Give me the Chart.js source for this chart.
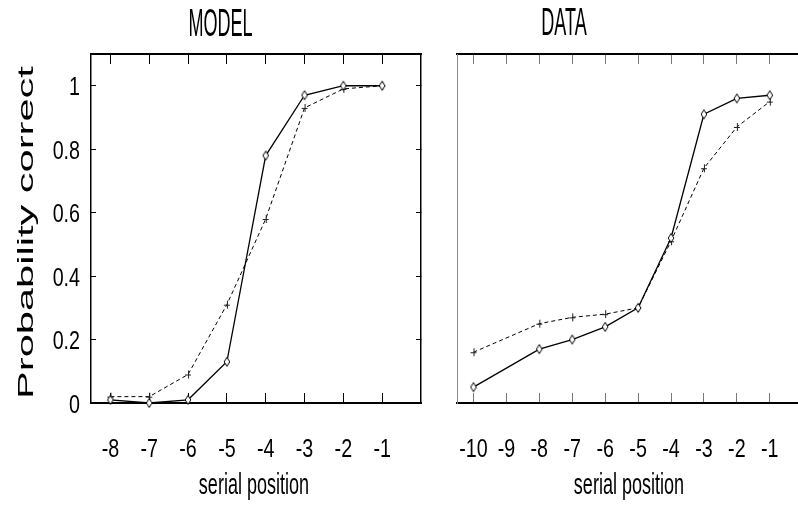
<!DOCTYPE html>
<html>
<head>
<meta charset="utf-8">
<script src="https://cdn.jsdelivr.net/npm/chart.js@4"></script>
<style>
  html, body { margin: 0; padding: 0; background: #fff; overflow: hidden; width: 798px; height: 505px; }
  #wrapL { position: absolute; left: 0; top: 0; width: 440px; height: 505px; }
  #wrapR { position: absolute; left: 440px; top: 0; width: 369px; height: 505px; }
</style>
</head>
<body>
<div id="wrapL"><canvas id="cModel" width="440" height="505"></canvas></div>
<div id="wrapR"><canvas id="cData" width="369" height="505"></canvas></div>
<script>
// ---- data ----
const modelTitle = 'MODEL';
const dataTitle = 'DATA';
const xAxisTitle = 'serial position';
const yAxisTitle = 'Probability correct';

const modelPositions = [-8, -7, -6, -5, -4, -3, -2, -1];
const modelSolid  = [0.01, 0.00, 0.01, 0.13, 0.78, 0.97, 1.00, 1.00];
const modelDashed = [0.02, 0.02, 0.09, 0.31, 0.58, 0.93, 0.99, 1.00];

const dataPositions = [-10, -8, -7, -6, -5, -4, -3, -2, -1];
const dataSolid  = [0.05, 0.17, 0.20, 0.24, 0.30, 0.52, 0.91, 0.96, 0.97];
const dataDashed = [0.16, 0.25, 0.27, 0.28, 0.30, 0.51, 0.74, 0.87, 0.95];

const modelXTicks = [-8, -7, -6, -5, -4, -3, -2, -1];
const modelXTickLabels = ['-8', '-7', '-6', '-5', '-4', '-3', '-2', '-1'];
const dataXTicks = [-10, -9, -8, -7, -6, -5, -4, -3, -2, -1];
const dataXTickLabels = ['-10', '-9', '-8', '-7', '-6', '-5', '-4', '-3', '-2', '-1'];
const yTicks = [0, 0.2, 0.4, 0.6, 0.8, 1];
const yTickLabels = ['0', '0.2', '0.4', '0.6', '0.8', '1'];

// ---- styles ----
const SANS = '"Liberation Sans", Arial, sans-serif';
const NARROW_SX = 0.82;   // Liberation Sans compressed horizontally ~ Arial Narrow

function makeDiamond() {
  const c = document.createElement('canvas');
  c.width = 8; c.height = 12;
  const g = c.getContext('2d');
  g.beginPath();
  g.moveTo(4, 1.5); g.lineTo(6.8, 6); g.lineTo(4, 10.5); g.lineTo(1.2, 6); g.closePath();
  g.fillStyle = '#fff'; g.fill();
  g.strokeStyle = '#000'; g.lineWidth = 1; g.stroke();
  return c;
}
function makePlus() {
  const c = document.createElement('canvas');
  c.width = 8; c.height = 10;
  const g = c.getContext('2d');
  g.strokeStyle = '#222'; g.lineWidth = 1;
  g.beginPath();
  g.moveTo(1, 5.5); g.lineTo(7, 5.5);
  g.moveTo(4.5, 1); g.lineTo(4.5, 9);
  g.stroke();
  return c;
}
const diamondImg = makeDiamond();
const plusImg = makePlus();

function drawStretched(ctx, text, x, y, o) {
  ctx.save();
  ctx.font = o.font;
  ctx.fillStyle = '#000';
  ctx.textAlign = o.align || 'center';
  ctx.textBaseline = 'alphabetic';
  ctx.translate(x, y);
  if (o.rotate) ctx.rotate(o.rotate);
  ctx.scale(o.sx || 1, o.sy || 1);
  ctx.fillText(text, 0, 0);
  ctx.restore();
}

// Draws titles and tick labels (tick positions come from the chart's scales)
const stretchText = {
  id: 'stretchText',
  afterDraw(chart, args, opts) {
    const ctx = chart.ctx;
    (opts.items || []).forEach(it => drawStretched(ctx, it.text, it.x, it.y, it));
    (opts.axes || []).forEach(a => {
      const scale = chart.scales[a.id];
      a.values.forEach((v, i) => {
        const p = scale.getPixelForValue(v);
        if (scale.isHorizontal()) {
          drawStretched(ctx, a.labels[i], p, scale.top + a.offset, a);
        } else {
          drawStretched(ctx, a.labels[i], scale.right - a.offset, p + a.baselineShift, a);
        }
      });
    });
  }
};

function pts(xs, ys) { return xs.map((x, i) => ({ x: x, y: ys[i] })); }

function solidDs(xs, ys) {
  return { data: pts(xs, ys), borderColor: '#000', borderWidth: 1.3, pointStyle: diamondImg,
           pointRadius: 5, clip: false, order: 1, tension: 0 };
}
function dashedDs(xs, ys) {
  return { data: pts(xs, ys), borderColor: '#000', borderWidth: 1, borderDash: [4, 3], pointStyle: plusImg,
           pointRadius: 5, clip: false, order: 2, tension: 0 };
}

function setTicks(values) { return axis => { axis.ticks = values.map(v => ({ value: v })); }; }
function fixSize(prop, v) { return axis => { axis[prop] = v; }; }

function xScale(pos, min, max, tickVals, size, tickColor) {
  return {
    type: 'linear', position: pos, min: min, max: max,
    afterBuildTicks: setTicks(tickVals),
    afterFit: fixSize('height', size),
    grid: { display: true, drawOnChartArea: false, drawTicks: true, tickLength: -10, tickColor: tickColor, tickWidth: 1 },
    border: { display: true, color: '#000', width: 2 },
    ticks: { display: false }
  };
}
function yScale(pos, size, tickLen, borderColor, borderWidth) {
  return {
    type: 'linear', position: pos, min: 0, max: 1.1,
    afterBuildTicks: setTicks(yTicks),
    afterFit: fixSize('width', size),
    grid: tickLen ? { display: true, drawOnChartArea: false, drawTicks: true, tickLength: -tickLen, tickColor: '#000', tickWidth: 1 }
                  : { display: false },
    border: { display: true, color: borderColor, width: borderWidth },
    ticks: { display: false }
  };
}

const tickFont = '24px ' + SANS;
const titleFont = '22px ' + SANS;

// ---- MODEL chart ----
new Chart(document.getElementById('cModel'), {
  type: 'line',
  data: { datasets: [ solidDs(modelPositions, modelSolid), dashedDs(modelPositions, modelDashed) ] },
  options: {
    responsive: false, animation: false, devicePixelRatio: 1,
    layout: { padding: 0 },
    plugins: {
      legend: { display: false }, tooltip: { enabled: false }, title: { display: false },
      stretchText: {
        items: [
          { text: modelTitle, x: 220.5, y: 35.5, font: titleFont, sx: NARROW_SX, sy: 1.78 },
          { text: xAxisTitle, x: 254, y: 494, font: titleFont, sx: NARROW_SX, sy: 1.38 },
          { text: yAxisTitle, x: 33, y: 232.5, rotate: -Math.PI / 2, font: titleFont, sx: 1.89, sy: 1 }
        ],
        axes: [
          { id: 'x', values: modelXTicks, labels: modelXTickLabels, offset: 54, font: tickFont, sx: NARROW_SX, sy: 1.1 },
          { id: 'y', values: yTicks, labels: yTickLabels, offset: 11, baselineShift: 9.5, align: 'right', font: tickFont, sx: NARROW_SX, sy: 1.1 }
        ]
      }
    },
    scales: {
      x: xScale('bottom', -8.5, 0, modelXTicks, 102, '#000'),
      x2: xScale('top', -8.5, 0, modelXTicks, 54, '#000'),
      y: yScale('left', 91, 5, '#000', 1.5),
      y2: yScale('right', 19, 5, '#000', 1.5)
    }
  },
  plugins: [stretchText]
});

// ---- DATA chart ----
new Chart(document.getElementById('cData'), {
  type: 'line',
  data: { datasets: [ solidDs(dataPositions, dataSolid), dashedDs(dataPositions, dataDashed) ] },
  options: {
    responsive: false, animation: false, devicePixelRatio: 1,
    layout: { padding: 0 },
    plugins: {
      legend: { display: false }, tooltip: { enabled: false }, title: { display: false },
      stretchText: {
        items: [
          { text: dataTitle, x: 124, y: 35, font: titleFont, sx: NARROW_SX, sy: 1.78 },
          { text: xAxisTitle, x: 189, y: 494, font: titleFont, sx: NARROW_SX, sy: 1.38 }
        ],
        axes: [
          { id: 'x', values: dataXTicks, labels: dataXTickLabels, offset: 54, font: tickFont, sx: NARROW_SX, sy: 1.1 }
        ]
      }
    },
    scales: {
      x: xScale('bottom', -10.5, 0, dataXTicks, 102, '#777'),
      x2: xScale('top', -10.5, 0, dataXTicks, 54, '#777'),
      y: yScale('left', 17, 0, '#888', 1)
    }
  },
  plugins: [stretchText]
});
</script>
</body>
</html>
